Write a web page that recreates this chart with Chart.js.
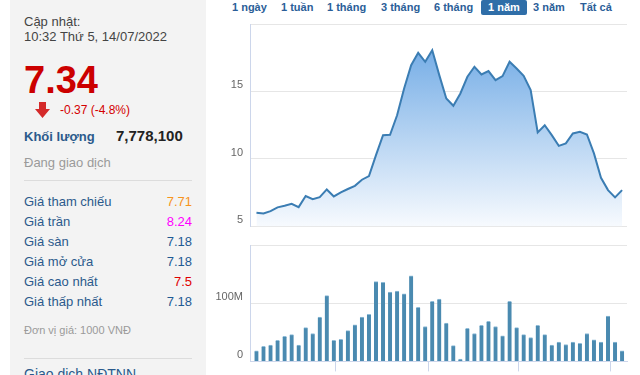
<!DOCTYPE html>
<html>
<head>
<meta charset="utf-8">
<script src="https://cdn.jsdelivr.net/npm/chart.js@4.4.0/dist/chart.umd.min.js"></script>
<style>
    body { margin: 0; width: 640px; height: 375px; overflow: hidden; background: #fff; font-family: "Liberation Sans", Arial, sans-serif; position: relative; }
    .panel { position: absolute; left: 10px; top: 0; width: 196px; height: 375px; background: #f3f3f3; }
    .t { position: absolute; white-space: nowrap; line-height: 1; }
    .lbl { left: 24px; font-size: 13px; color: #2b5a8c; }
    .val { right: 448px; font-size: 13px; text-align: right; }
    .sep { position: absolute; left: 24px; width: 168px; height: 1px; background: #dcdcdc; }
    .btn { position: absolute; top: 1px; font-size: 11px; font-weight: bold; color: #2b5e98; line-height: 13px; }
    .btn.active { background: #2f6ea8; color: #fff; top: 0; height: 15px; line-height: 14px; padding: 0 7px; border-radius: 2px; }
    canvas { position: absolute; }
</style>
</head>
<body>
<div class="panel"></div>
<div class="t" style="left:24px;top:15px;font-size:13px;color:#444;">Cập nhật:</div>
<div class="t" style="left:24px;top:30px;font-size:13px;color:#444;">10:32 Thứ 5, 14/07/2022</div>
<div class="t" style="left:24px;top:61px;font-size:38px;font-weight:bold;color:#cc0000;">7.34</div>
<svg style="position:absolute;left:35px;top:102px" width="15" height="16" viewBox="0 0 15 16">
    <path d="M4 0 H11 V7 H15 L7.5 16 L0 7 H4 Z" fill="#d42a2a"/>
</svg>
<div class="t" style="left:60px;top:104px;font-size:12px;color:#d40000;">-0.37 (-4.8%)</div>
<div class="t" style="left:24px;top:130px;font-size:13px;font-weight:bold;color:#2b5a8c;">Khối lượng</div>
<div class="t" style="left:116px;top:128px;font-size:15px;font-weight:bold;color:#222;">7,778,100</div>
<div class="t" style="left:24px;top:156px;font-size:13px;color:#9a9a9a;">Đang giao dịch</div>
<div class="sep" style="top:180px"></div>

<div class="t lbl" style="top:195px">Giá tham chiếu</div><div class="t val" style="top:195px;color:#f7941d">7.71</div>
<div class="t lbl" style="top:215px">Giá trần</div><div class="t val" style="top:215px;color:#f0f">8.24</div>
<div class="t lbl" style="top:235px">Giá sàn</div><div class="t val" style="top:235px;color:#1f5a93">7.18</div>
<div class="t lbl" style="top:255px">Giá mở cửa</div><div class="t val" style="top:255px;color:#1f5a93">7.18</div>
<div class="t lbl" style="top:275px">Giá cao nhất</div><div class="t val" style="top:275px;color:#e00000">7.5</div>
<div class="t lbl" style="top:295px">Giá thấp nhất</div><div class="t val" style="top:295px;color:#1f5a93">7.18</div>
<div class="t" style="left:24px;top:325px;font-size:11px;color:#9a9a9a;">Đơn vị giá: 1000 VNĐ</div>
<div class="sep" style="top:358px"></div>
<div class="t" style="left:24px;top:367px;font-size:14px;color:#2b5a8c;">Giao dịch NĐTNN</div>

<div class="btn" style="left:232px">1 ngày</div>
<div class="btn" style="left:281px">1 tuần</div>
<div class="btn" style="left:327px">1 tháng</div>
<div class="btn" style="left:381px">3 tháng</div>
<div class="btn" style="left:434px">6 tháng</div>
<div class="btn active" style="left:481px">1 năm</div>
<div class="btn" style="left:533px">3 năm</div>
<div class="btn" style="left:580px">Tất cả</div>

<canvas id="giaChart" width="433" height="240" style="left:207px;top:0"></canvas>
<canvas id="klChart" width="433" height="145" style="left:207px;top:230px"></canvas>

<script>
// 53 phiên tuần, 15/07/2021 -> 14/07/2022
const prices = [6.01, 5.96, 6.13, 6.41, 6.53, 6.68, 6.43, 7.25, 7.02, 7.17,
    7.74, 7.22, 7.52, 7.77, 8.01, 8.46, 8.73, 10.28, 11.76, 11.79,
    13.24, 15.22, 16.95, 17.86, 17.2, 18.06, 16.21, 14.48, 13.94, 14.85,
    16.09, 16.83, 16.26, 16.51, 15.84, 16.14, 17.2, 16.7, 16.16, 15.1,
    11.96, 12.5, 11.76, 10.97, 11.15, 11.89, 12.01, 11.81, 10.41, 8.6,
    7.69, 7.15, 7.69];
// khối lượng (triệu cp)
const volumes = [18, 26, 28, 36, 43, 46, 28, 58, 48, 76,
    113, 36, 38, 53, 63, 76, 81, 137, 136, 119,
    121, 116, 147, 93, 60, 103, 107, 66, 27, 4,
    57, 48, 62, 69, 60, 44, 103, 58, 46, 41,
    62, 46, 28, 33, 29, 33, 31, 48, 37, 33,
    78, 33, 18];
const priceTicks = [5, 10, 15, 20];
const volumeTicks = [0, 100, 200];
// vị trí đầu quý (tính theo tuần)
const quarterTicks = [11.2, 24.4, 37.3, 50.3];

const xMin = -0.92, xMax = 52.7;
const axisLine = '#ccd6eb';
const gridLine = '#e6e6e6';

const ctxGia = document.getElementById('giaChart');
new Chart(ctxGia, {
    type: 'line',
    data: {
        datasets: [{
            data: prices.map((v, i) => ({ x: i, y: v })),
            borderColor: '#3b7db3',
            borderWidth: 2,
            pointRadius: 0,
            tension: 0,
            fill: 'start',
            backgroundColor: function (context) {
                const { ctx, chartArea } = context.chart;
                if (!chartArea) return 'rgba(110,170,230,0.5)';
                const g = ctx.createLinearGradient(0, chartArea.top, 0, chartArea.bottom);
                g.addColorStop(0, '#64a3e3');
                g.addColorStop(1, '#f7fafe');
                return g;
            }
        }]
    },
    options: {
        responsive: false,
        animation: false,
        layout: { padding: { top: 24, right: 13, bottom: 12, left: 0 } },
        plugins: { legend: { display: false }, tooltip: { enabled: false } },
        scales: {
            x: { type: 'linear', min: xMin, max: xMax, offset: false, display: false },
            y: {
                min: 5,
                max: 20,
                afterBuildTicks: s => { s.ticks = priceTicks.map(v => ({ value: v })); },
                afterFit: s => { s.width = 43; },
                ticks: {
                    callback: v => v === 20 ? '' : v,
                    color: '#666',
                    font: { size: 11, family: 'Liberation Sans' },
                    padding: 7,
                    labelOffset: -6
                },
                grid: { color: gridLine, drawTicks: false },
                border: { color: axisLine }
            }
        }
    }
});

const ctxKL = document.getElementById('klChart');
new Chart(ctxKL, {
    type: 'bar',
    data: {
        datasets: [{
            data: volumes.map((v, i) => ({ x: i, y: v })),
            backgroundColor: '#4a8ab0',
            borderColor: '#8fbcd8',
            borderWidth: { top: 1, left: 0, right: 0, bottom: 0 },
            borderSkipped: 'bottom',
            barThickness: 4
        }]
    },
    options: {
        responsive: false,
        animation: false,
        layout: { padding: { top: 15, right: 13, bottom: 0, left: 0 } },
        plugins: { legend: { display: false }, tooltip: { enabled: false } },
        scales: {
            x: {
                type: 'linear',
                min: xMin,
                max: xMax,
                offset: false,
                afterBuildTicks: s => { s.ticks = quarterTicks.map(v => ({ value: v })); },
                afterFit: s => { s.height = 10; },
                ticks: { display: false },
                grid: { drawOnChartArea: false, offset: false, color: axisLine, tickLength: 10 },
                border: { color: axisLine }
            },
            y: {
                min: 0,
                max: 200,
                afterBuildTicks: s => { s.ticks = volumeTicks.map(v => ({ value: v })); },
                afterFit: s => { s.width = 43; },
                ticks: {
                    callback: v => v === 0 ? '0' : (v === 100 ? '100M' : ''),
                    color: '#666',
                    font: { size: 11, family: 'Liberation Sans' },
                    padding: 7,
                    labelOffset: -6
                },
                grid: { color: gridLine, drawTicks: false },
                border: { color: axisLine }
            }
        }
    }
});
</script>
</body>
</html>
